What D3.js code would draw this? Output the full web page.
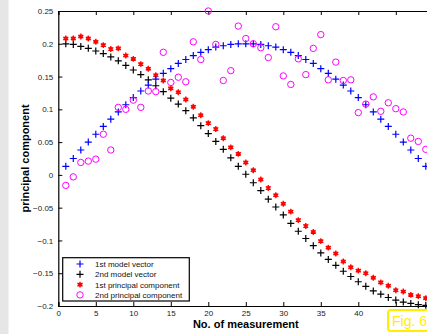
<!DOCTYPE html>
<html>
<head>
<meta charset="utf-8">
<script src="https://cdn.jsdelivr.net/npm/d3@7"></script>
<style>
  body { margin: 0; background: #fff; }
  svg { display: block; font-family: Arial, "Liberation Sans", Helvetica, sans-serif; }
</style>
</head>
<body>
<svg id="chart" width="427" height="334"></svg>
<script>
// measurement index 1..49
const measurements = d3.range(1, 50)

// 1st model vector (blue +)
const model1 = [0.013, 0.025, 0.038, 0.050, 0.062, 0.074, 0.085, 0.096, 0.107, 0.118,
  0.128, 0.137, 0.146, 0.155, 0.162, 0.170, 0.176, 0.182, 0.187, 0.191,
  0.195, 0.197, 0.199, 0.200, 0.200, 0.200, 0.199, 0.197, 0.195, 0.191,
  0.187, 0.182, 0.176, 0.170, 0.162, 0.155, 0.146, 0.137, 0.128, 0.118,
  0.107, 0.096, 0.085, 0.074, 0.062, 0.050, 0.038, 0.025, 0.013]

// 2nd model vector (black +)
const model2 = [0.200, 0.199, 0.196, 0.193, 0.189, 0.185, 0.180, 0.174, 0.167, 0.160,
  0.153, 0.145, 0.136, 0.127, 0.117, 0.108, 0.098, 0.087, 0.075, 0.063,
  0.051, 0.039, 0.026, 0.013, 0.001, -0.012, -0.024, -0.037, -0.049, -0.061,
  -0.074, -0.086, -0.097, -0.108, -0.119, -0.129, -0.138, -0.147, -0.155, -0.163,
  -0.170, -0.177, -0.182, -0.187, -0.191, -0.194, -0.196, -0.198, -0.199]

// 1st principal component (red *)
const pc1 = [0.208, 0.208, 0.211, 0.208, 0.203, 0.198, 0.192, 0.193, 0.182, 0.177,
  0.169, 0.162, 0.152, 0.144, 0.132, 0.126, 0.115, 0.104, 0.091, 0.079,
  0.070, 0.056, 0.042, 0.032, 0.019, 0.007, -0.007, -0.020, -0.031, -0.044,
  -0.056, -0.069, -0.078, -0.087, -0.101, -0.111, -0.120, -0.132, -0.141, -0.146,
  -0.150, -0.157, -0.164, -0.169, -0.176, -0.178, -0.183, -0.185, -0.188]

// 2nd principal component (magenta o)
const pc2 = [-0.016, -0.003, 0.019, 0.021, 0.024, 0.062, 0.038, 0.103, 0.100, 0.114,
  0.103, 0.128, 0.127, 0.187, 0.141, 0.149, 0.142, 0.203, 0.176, 0.250,
  0.199, 0.144, 0.159, 0.227, 0.208, 0.200, 0.194, 0.179, 0.226, 0.151,
  0.138, 0.177, 0.153, 0.193, 0.214, 0.145, 0.172, 0.144, 0.145, 0.095,
  0.108, 0.119, 0.097, 0.110, 0.101, 0.096, 0.056, 0.051, 0.039]

const xTicks = [0, 5, 10, 15, 20, 25, 30, 35, 40, 45, 50]
const yTicks = [-0.2, -0.15, -0.1, -0.05, 0, 0.05, 0.1, 0.15, 0.2, 0.25]
const legendLabels = ["1st model vector", "2nd model vector", "1st principal component", "2nd principal component"]

const plotLeft = 58.3, plotRight = 433.3, plotTop = 11, plotBottom = 306

var svg = d3.select("#chart")

// grey strip on the left
svg.append("rect")
  .attr("x", 0).attr("y", 0)
  .attr("width", 8.5).attr("height", 334)
  .attr("fill", "#e6e6e6")

var x = d3.scaleLinear().domain([0, 50]).range([plotLeft, plotRight])
var y = d3.scaleLinear().domain([-0.2, 0.25]).range([plotBottom, plotTop])

const fmt = function(d) {
  if (d === 0) return "0"
  var s = d3.format("")(+d.toFixed(2))
  return s.replace("-", "\u2212")
}

// axes, ticks inward (matlab style)
svg.append("g")
  .attr("transform", "translate(0," + plotBottom + ")")
  .call(d3.axisBottom(x).tickValues(xTicks).tickSize(-4).tickPadding(4.5).tickFormat(d3.format("d")))
  .call(g => g.select(".domain").attr("stroke-width", 1.2))
svg.append("g")
  .attr("transform", "translate(0," + plotTop + ")")
  .call(d3.axisTop(x).tickValues(xTicks).tickSize(-4).tickFormat(""))
  .call(g => g.select(".domain").attr("stroke-width", 1.2))
svg.append("g")
  .attr("transform", "translate(" + plotLeft + ",0)")
  .call(d3.axisLeft(y).tickValues(yTicks).tickSize(-4).tickPadding(5).tickFormat(fmt))
  .call(g => g.select(".domain").attr("stroke-width", 1.2))

svg.selectAll(".tick text")
  .attr("font-size", "8px")
  .attr("fill", "#222")
  .attr("font-family", "Arial, 'Liberation Sans', sans-serif")
svg.selectAll(".domain").attr("stroke", "#000")
svg.selectAll(".tick line").attr("stroke", "#000")

// axis titles
svg.append("text")
  .attr("x", (plotLeft + plotRight) / 2)
  .attr("y", 328)
  .attr("text-anchor", "middle")
  .attr("font-size", "11px")
  .attr("font-weight", "bold")
  .text("No. of measurement")

svg.append("text")
  .attr("transform", "translate(29," + (plotTop + plotBottom) / 2 + ") rotate(-90)")
  .attr("text-anchor", "middle")
  .attr("font-size", "11px")
  .attr("font-weight", "bold")
  .text("principal component")

const plusPath = "M-3.5,0H3.5M0,-3.5V3.5"
var star = d3.symbol().type(d3.symbolAsterisk).size(24)

function drawStar(g) {
  g.append("circle").attr("r", 2.2).attr("fill", "#ff0000").attr("opacity", 0.85)
  g.append("path").attr("d", star()).attr("stroke", "#ff0000").attr("stroke-width", 1.3).attr("fill", "none")
}

// 2nd model vector
svg.append("g").selectAll("path")
  .data(measurements)
  .enter()
  .append("path")
  .attr("transform", (d, i) => "translate(" + x(d) + "," + y(model2[i]) + ")")
  .attr("d", plusPath)
  .attr("stroke", "#000")
  .attr("stroke-width", 1.2)

// 1st principal component
svg.append("g").selectAll("g")
  .data(measurements)
  .enter()
  .append("g")
  .attr("transform", (d, i) => "translate(" + x(d) + "," + y(pc1[i]) + ")")
  .each(function() { drawStar(d3.select(this)) })

// 1st model vector
svg.append("g").selectAll("path")
  .data(measurements)
  .enter()
  .append("path")
  .attr("transform", (d, i) => "translate(" + x(d) + "," + y(model1[i]) + ")")
  .attr("d", plusPath)
  .attr("stroke", "#0000ff")
  .attr("stroke-width", 1.2)

// 2nd principal component
svg.append("g").selectAll("circle")
  .data(measurements)
  .enter()
  .append("circle")
  .attr("cx", d => x(d))
  .attr("cy", (d, i) => y(pc2[i]))
  .attr("r", 3.2)
  .attr("fill", "none")
  .attr("stroke", "#ff00ff")
  .attr("stroke-width", 1)

// legend
var legend = svg.append("g")
legend.append("rect")
  .attr("x", 62.7).attr("y", 257.7)
  .attr("width", 126.6).attr("height", 43.3)
  .attr("fill", "#fff")
  .attr("stroke", "#000")
  .attr("stroke-width", 1.2)

legendLabels.forEach(function(lab, i) {
  var ly = 264 + i * 10.3
  var g = legend.append("g").attr("transform", "translate(80," + ly + ")")
  if (i === 0) g.append("path").attr("d", plusPath).attr("stroke", "#0000ff").attr("stroke-width", 1.2)
  if (i === 1) g.append("path").attr("d", plusPath).attr("stroke", "#000").attr("stroke-width", 1.2)
  if (i === 2) drawStar(g)
  if (i === 3) g.append("circle").attr("r", 3.2).attr("fill", "none").attr("stroke", "#ff00ff")
  legend.append("text")
    .attr("x", 95)
    .attr("y", ly + 3)
    .attr("font-size", "8px")
    .attr("fill", "#111")
    .text(lab)
})

// figure tag
svg.append("rect")
  .attr("x", 388).attr("y", 310)
  .attr("width", 50).attr("height", 21)
  .attr("rx", 3)
  .attr("fill", "#fff")
  .attr("stroke", "#ffee00")
  .attr("stroke-width", 2)
svg.append("text")
  .attr("x", 392)
  .attr("y", 326)
  .attr("font-size", "14px")
  .attr("fill", "#ffee00")
  .text("Fig. 6")
</script>
</body>
</html>
